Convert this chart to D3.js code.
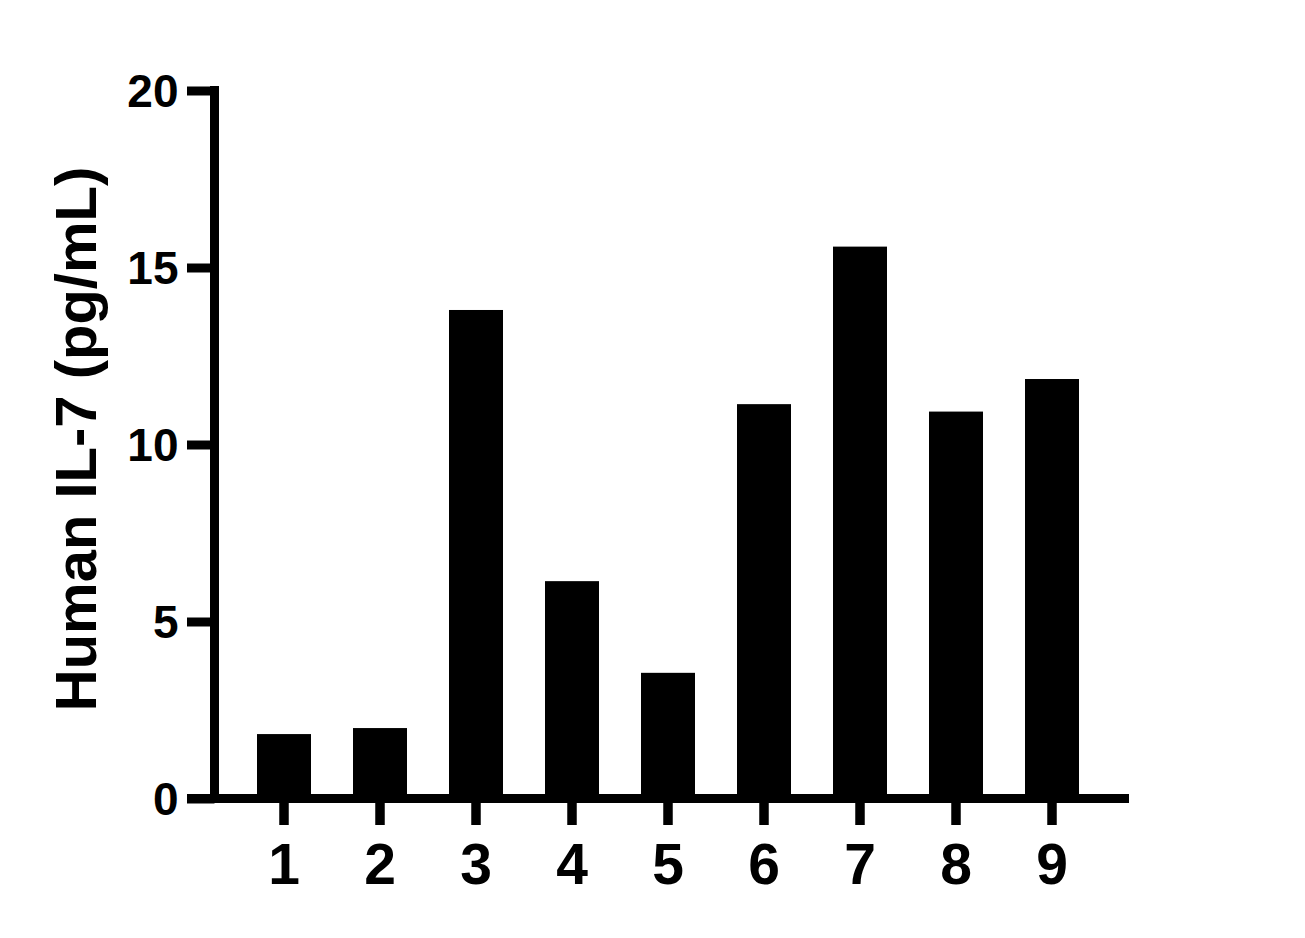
<!DOCTYPE html>
<html>
<head>
<meta charset="utf-8">
<script src="https://cdn.jsdelivr.net/npm/d3@7"></script>
<style>
  html, body { margin: 0; padding: 0; background: #fff; }
  svg { display: block; }
  text { font-family: "Liberation Sans", Arial, sans-serif; font-weight: bold; fill: #000; }
</style>
</head>
<body>
<svg id="chart" width="1305" height="938"></svg>
<script>
const categories = ["1", "2", "3", "4", "5", "6", "7", "8", "9"];
const values = [1.82, 1.99, 13.80, 6.14, 3.55, 11.14, 15.59, 10.93, 11.85];
const yTicks = [0, 5, 10, 15, 20];
const yTitle = "Human IL-7 (pg/mL)";

const svg = d3.select("#chart");
const axisX = 214.5, axisY = 798.5;

const x = d3.scaleBand()
  .domain(categories)
  .range([236, 1100])
  .paddingInner(0.4375)
  .paddingOuter(0.21875);

const y = d3.scaleLinear().domain([0, 20]).range([axisY, 90.5]);

// bars
svg.append("g").selectAll("rect")
  .data(values)
  .join("rect")
  .attr("x", (d, i) => x(categories[i]))
  .attr("width", x.bandwidth())
  .attr("y", d => y(d))
  .attr("height", d => y(0) - y(d))
  .attr("fill", "#000");

// y axis
const gy = svg.append("g").attr("transform", `translate(${axisX},0)`)
  .call(d3.axisLeft(y).tickValues(yTicks).tickSizeInner(27.5).tickSizeOuter(0).tickPadding(0));
gy.select(".domain").remove();
gy.selectAll(".tick line").attr("stroke", "#000").attr("stroke-width", 9);
gy.selectAll(".tick text")
  .attr("x", -36)
  .attr("dy", "0.35em")
  .style("font-size", "46px")
  .attr("text-anchor", "end");
svg.append("line")
  .attr("x1", axisX).attr("x2", axisX)
  .attr("y1", y(20) - 4.5).attr("y2", axisY + 4.5)
  .attr("stroke", "#000").attr("stroke-width", 9);

// x axis
const gx = svg.append("g").attr("transform", `translate(0,${axisY})`)
  .call(d3.axisBottom(x).tickSizeInner(26.5).tickSizeOuter(0).tickPadding(0));
gx.select(".domain").remove();
gx.selectAll(".tick line").attr("stroke", "#000").attr("stroke-width", 9.5);
gx.selectAll(".tick text")
  .attr("y", 85.5)
  .attr("dy", 0)
  .style("font-size", "57px");
svg.append("line")
  .attr("x1", 187).attr("x2", 1129)
  .attr("y1", axisY).attr("y2", axisY)
  .attr("stroke", "#000").attr("stroke-width", 9);

// y title
svg.append("text")
  .attr("transform", `translate(96,${(168 + 710) / 2}) rotate(-90)`)
  .attr("text-anchor", "middle")
  .style("font-size", "58px")
  .text(yTitle);
</script>
</body>
</html>
